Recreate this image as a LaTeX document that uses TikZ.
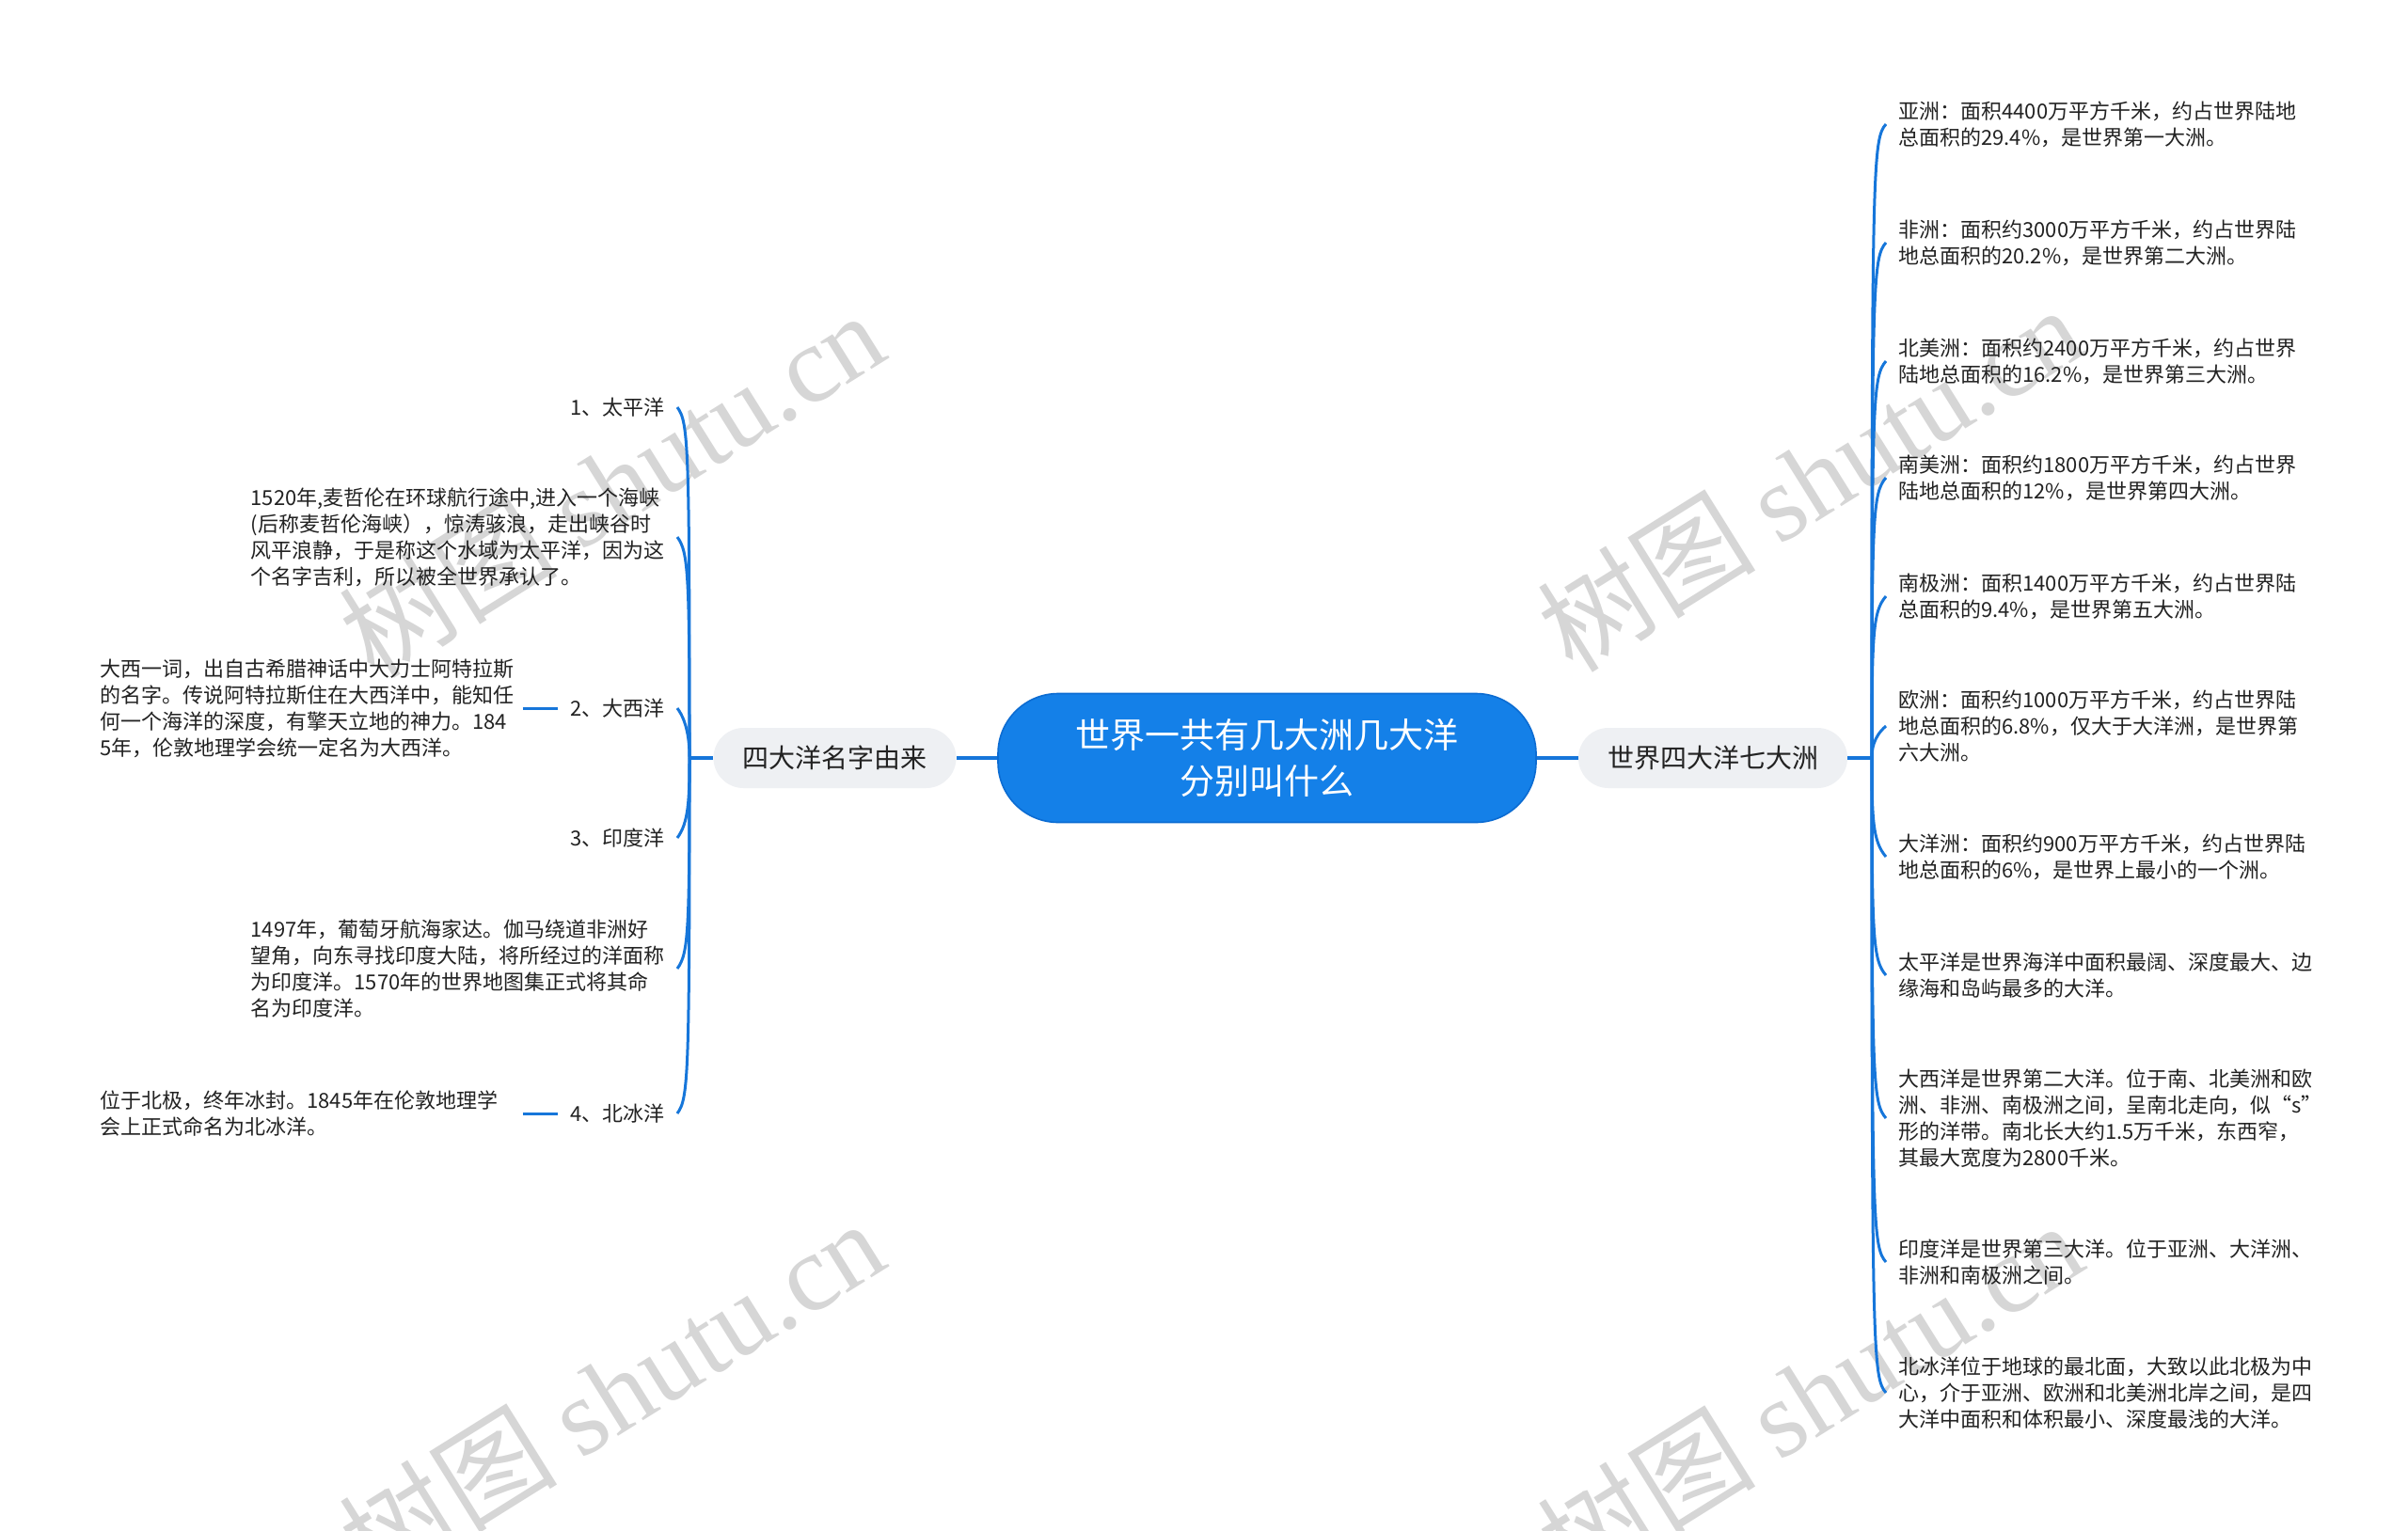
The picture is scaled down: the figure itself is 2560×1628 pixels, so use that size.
\documentclass[tikz,border=0pt]{standalone}
\usepackage{fontspec}
\setmainfont{Noto Sans CJK SC}
\newfontfamily\wmlatin{Liberation Serif}
\usetikzlibrary{calc}
\definecolor{rootblue}{RGB}{20,128,232}
\definecolor{rootedge}{RGB}{12,108,210}
\definecolor{linkblue}{RGB}{22,118,218}
\definecolor{branchgray}{RGB}{238,240,243}
\definecolor{txt}{RGB}{34,34,34}
\definecolor{wmgray}{RGB}{214,214,214}
\tikzset{
  rootnode/.style={fill=rootblue, draw=rootedge, line width=0.8pt, rounded corners=32pt,
    minimum width=286pt, minimum height=68.5pt, inner sep=0pt, text=white,
    font=\fontsize{18.5}{24.5}\selectfont, align=center},
  branchnode/.style={fill=branchgray, rounded corners=16pt, minimum height=32pt,
    inner xsep=15.5pt, inner ysep=0pt, text=txt, font=\fontsize{14}{17}\selectfont},
  leafnode/.style={inner xsep=6.5pt, inner ysep=2pt, text=txt, align=left,
    font=\fontsize{11}{14}\selectfont},
  mainlink/.style={draw=linkblue, line width=2pt},
  leaflink/.style={draw=linkblue, line width=1.5pt},
  wmtext/.style={text=wmgray, font=\fontsize{58}{58}\selectfont, rotate=32, inner sep=0pt}
}
\newcommand\hookR[3]{\draw[leaflink] (RT) .. controls ($(RT|-#1.west)+(0,#2)$) and ($(RT|-#1.west)+(1,#3)$) .. (#1.west);}
\newcommand\hookL[3]{\draw[leaflink] (LT) .. controls ($(LT|-#1.east)+(0,#2)$) and ($(LT|-#1.east)+(-1,#3)$) .. (#1.east);}
\begin{document}
\begin{tikzpicture}[x=0.5pt,y=-0.5pt]
\useasboundingbox (0,0) rectangle (2560,1628);
\fill[white] (0,0) rectangle (2560,1628);
% watermarks
\node[wmtext] (wm1) at (650,514) {树图 {\wmlatin shutu.cn}};
\node[wmtext] (wm2) at (1924,508) {树图 {\wmlatin shutu.cn}};
\node[wmtext] (wm3) at (650,1480) {树图 {\wmlatin shutu.cn}};
\node[wmtext] (wm4) at (1924,1482) {树图 {\wmlatin shutu.cn}};
% main nodes
\node[rootnode] (root) at (1347,806) {世界一共有几大洲几大洋\\分别叫什么};
\node[branchnode] (R) at (1821,806) {世界四大洋七大洲};
\node[branchnode] (L) at (887.5,806) {四大洋名字由来};
\draw[mainlink] (root.east) -- (R.west);
\draw[mainlink] (root.west) -- (L.east);
\coordinate (RT) at (1990,806);
\coordinate (LT) at (733,806);
\draw[mainlink] (R.east) -- (RT);
\draw[mainlink] (L.west) -- (LT);
% right leaves
\node[leafnode, anchor=west] (r1) at (2005,132) {亚洲：面积4400万平方千米，约占世界陆地\\总面积的29.4\%，是世界第一大洲。};
\node[leafnode, anchor=west] (r2) at (2005,258) {非洲：面积约3000万平方千米，约占世界陆\\地总面积的20.2\%，是世界第二大洲。};
\node[leafnode, anchor=west] (r3) at (2005,384) {北美洲：面积约2400万平方千米，约占世界\\陆地总面积的16.2\%，是世界第三大洲。};
\node[leafnode, anchor=west] (r4) at (2005,508) {南美洲：面积约1800万平方千米，约占世界\\陆地总面积的12\%，是世界第四大洲。};
\node[leafnode, anchor=west] (r5) at (2005,634) {南极洲：面积1400万平方千米，约占世界陆\\总面积的9.4\%，是世界第五大洲。};
\node[leafnode, anchor=west] (r6) at (2005,772) {欧洲：面积约1000万平方千米，约占世界陆\\地总面积的6.8\%，仅大于大洋洲，是世界第\\六大洲。};
\node[leafnode, anchor=west] (r7) at (2005,911) {大洋洲：面积约900万平方千米，约占世界陆\\地总面积的6\%，是世界上最小的一个洲。};
\node[leafnode, anchor=west] (r8) at (2005,1037) {太平洋是世界海洋中面积最阔、深度最大、边\\缘海和岛屿最多的大洋。};
\node[leafnode, anchor=west] (r9) at (2005,1189) {大西洋是世界第二大洋。位于南、北美洲和欧\\洲、非洲、南极洲之间，呈南北走向，似“s”\\形的洋带。南北长大约1.5万千米，东西窄，\\其最大宽度为2800千米。};
\node[leafnode, anchor=west] (r10) at (2005,1342) {印度洋是世界第三大洋。位于亚洲、大洋洲、\\非洲和南极洲之间。};
\node[leafnode, anchor=west] (r11) at (2005,1481) {北冰洋位于地球的最北面，大致以此北极为中\\心，介于亚洲、欧洲和北美洲北岸之间，是四\\大洋中面积和体积最小、深度最浅的大洋。};
\hookR{r1}{40}{16}
\hookR{r2}{40}{16}
\hookR{r3}{40}{16}
\hookR{r4}{40}{16}
\hookR{r5}{40}{16}
\hookR{r6}{26}{12}
\hookR{r7}{-40}{-16}
\hookR{r8}{-40}{-16}
\hookR{r9}{-40}{-16}
\hookR{r10}{-40}{-16}
\hookR{r11}{-40}{-16}
% left leaves
\node[leafnode, anchor=east] (l1) at (720,433) {1、太平洋};
\node[leafnode, anchor=east] (l1d) at (720,571) {1520年,麦哲伦在环球航行途中,进入一个海峡\\(后称麦哲伦海峡），惊涛骇浪，走出峡谷时\\风平浪静，于是称这个水域为太平洋，因为这\\个名字吉利，所以被全世界承认了。};
\node[leafnode, anchor=east] (l2) at (720,753) {2、大西洋};
\node[leafnode, anchor=east] (l3) at (720,891) {3、印度洋};
\node[leafnode, anchor=east] (l3d) at (720,1030) {1497年，葡萄牙航海家达。伽马绕道非洲好\\望角，向东寻找印度大陆，将所经过的洋面称\\为印度洋。1570年的世界地图集正式将其命\\名为印度洋。};
\node[leafnode, anchor=east] (l4) at (720,1184) {4、北冰洋};
\node[leafnode, anchor=west, text width=218pt] (l2d) at (93,753) {大西一词，出自古希腊神话中大力士阿特拉斯\\的名字。传说阿特拉斯住在大西洋中，能知任\\何一个海洋的深度，有擎天立地的神力。184\\5年，伦敦地理学会统一定名为大西洋。};
\node[leafnode, anchor=west, text width=218pt] (l4d) at (93,1184) {位于北极，终年冰封。1845年在伦敦地理学\\会上正式命名为北冰洋。};
\hookL{l1}{40}{16}
\hookL{l1d}{40}{16}
\hookL{l2}{40}{16}
\hookL{l3}{-40}{-16}
\hookL{l3d}{-40}{-16}
\hookL{l4}{-40}{-16}
\draw[leaflink] (l2d.east) -- (l2.west);
\draw[leaflink] (l4d.east) -- (l4.west);
\end{tikzpicture}
\end{document}
